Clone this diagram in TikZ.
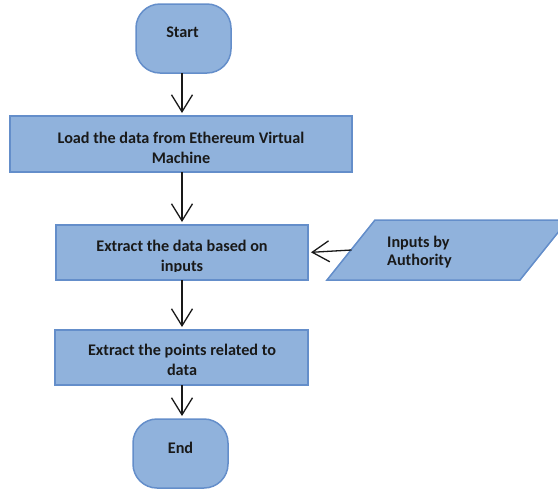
\documentclass[tikz,border=0pt]{standalone}
\usepackage{fontspec}
\setmainfont{Carlito}
\usetikzlibrary{arrows.meta}
\definecolor{boxfill}{RGB}{144,178,220}
\definecolor{boxline}{RGB}{100,142,202}
\definecolor{ink}{RGB}{25,25,25}
\begin{document}
\begin{tikzpicture}[x=1pt,y=-1pt,
  shapebox/.style={draw=boxline,fill=boxfill,line width=1.5pt,inner sep=0pt,outer sep=0pt},
  procbox/.style={shapebox,rectangle},
  termbox/.style={shapebox,rectangle,rounded corners=24pt,minimum width=95pt,minimum height=69pt},
  lbl/.style={font=\fontsize{16.2}{20}\selectfont\bfseries,text=ink,align=center,inner sep=0pt},
  arr/.style={draw=ink,line width=1.3pt,-{Straight Barb[length=17pt,width=21pt,line width=1.3pt]},shorten >=3pt}
]
\useasboundingbox (0,0) rectangle (558,491);
\clip (0,0) rectangle (558,491);

% shapes
\node[termbox] (start) at (183.5,38.5) {};
\node[procbox,minimum width=342pt,minimum height=56pt] (b1) at (181,144) {};
\node[procbox,minimum width=252pt,minimum height=55pt] (b2) at (182,252.5) {};
\node[procbox,minimum width=253pt,minimum height=55pt] (b3) at (181.5,357.5) {};
\node[termbox] (end) at (180.5,453.5) {};
\draw[shapebox] (327,280) -- (375,220) -- (568,220) -- (520,280) -- cycle;
\coordinate (pw) at (351.5,250);

% labels
\node[lbl] (tstart) at (182.5,32.5) {Start};
\node[lbl] (t1) at (181,148) {Load the data from Ethereum Virtual\\Machine};
\begin{scope}
  \clip (0,0) rectangle (558,271);
  \node[lbl] (t2) at (182,257.5) {Extract the data based on\\inputs};
\end{scope}
\node[lbl] (t3) at (182,360) {Extract the points related to\\data};
\node[lbl] (tend) at (180.5,448) {End};
\node[lbl,align=left,anchor=west,font=\fontsize{16.2}{18}\selectfont\bfseries] (tin) at (387,252) {Inputs by\\Authority};

% connectors
\draw[arr] (start.south -| 182,0) -- (b1.north -| 182,0);
\draw[arr] (b1.south -| 182,0) -- (b2.north -| 182,0);
\draw[arr] (b2.south -| 182,0) -- (b3.north -| 182,0);
\draw[arr] (b3.south -| 182,0) -- (end.north -| 182,0);
\draw[arr] (pw) -- (b2.east);
\end{tikzpicture}
\end{document}
